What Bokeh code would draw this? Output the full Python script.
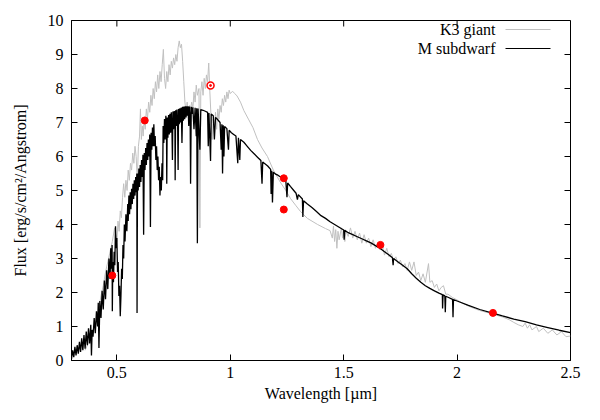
import math
from bokeh.plotting import figure
from bokeh.models import Range1d, FixedTicker, Label, Arrow, CustomJSTickFormatter
from bokeh.embed import file_html
from bokeh.resources import INLINE

FONT = "Liberation Serif"

# ---------------- data ----------------
x_ticks = [0.5, 1.0, 1.5, 2.0, 2.5]
y_ticks = [0, 1, 2, 3, 4, 5, 6, 7, 8, 9, 10]

# M subdwarf spectrum (wavelength in micron, flux)
m_points = [
    (0.300, 0.05), (0.305, 0.30), (0.310, 0.10), (0.315, 0.40), (0.320, 0.15), (0.325, 0.45), (0.330, 0.20), (0.335, 0.55),
    (0.340, 0.25), (0.345, 0.65), (0.350, 0.30), (0.355, 0.75), (0.360, 0.35), (0.365, 0.85), (0.370, 0.45), (0.375, 0.95),
    (0.380, 0.50), (0.385, 1.05), (0.388, 0.15), (0.391, 0.90), (0.395, 0.70), (0.400, 1.25), (0.405, 0.80), (0.410, 1.45),
    (0.415, 1.00), (0.418, 1.70), (0.421, 0.37), (0.425, 1.75), (0.430, 1.25), (0.435, 2.05), (0.440, 1.50), (0.445, 2.35),
    (0.450, 1.80), (0.455, 2.65), (0.460, 2.10), (0.465, 3.00), (0.470, 2.40), (0.473, 3.30), (0.476, 2.70), (0.479, 3.40),
    (0.480, 1.45), (0.482, 2.90), (0.485, 2.30), (0.488, 3.20), (0.491, 2.80), (0.494, 3.95), (0.497, 3.30), (0.500, 3.60),
    (0.503, 2.60), (0.506, 2.90), (0.509, 1.90), (0.512, 2.20), (0.515, 1.30), (0.518, 1.90), (0.521, 2.70), (0.524, 2.40),
    (0.527, 3.40), (0.530, 3.00), (0.533, 4.00), (0.536, 3.50), (0.540, 4.30), (0.544, 3.80), (0.548, 4.60), (0.550, 4.10),
    (0.553, 4.85), (0.556, 4.30), (0.559, 4.95), (0.562, 4.45), (0.565, 5.05), (0.568, 4.60), (0.571, 5.20), (0.574, 4.75),
    (0.577, 5.30), (0.580, 4.85), (0.583, 5.40), (0.586, 4.95), (0.588, 5.50), (0.589, 1.40), (0.591, 5.50), (0.594, 5.00),
    (0.597, 5.65), (0.600, 5.10), (0.603, 5.75), (0.606, 5.25), (0.609, 5.90), (0.612, 5.40), (0.615, 6.05), (0.618, 3.70),
    (0.621, 6.10), (0.624, 5.60), (0.627, 6.25), (0.630, 5.75), (0.633, 6.40), (0.636, 5.90), (0.639, 6.50), (0.642, 6.00),
    (0.645, 6.65), (0.648, 3.93), (0.651, 6.70), (0.654, 6.20), (0.657, 6.85), (0.660, 6.30), (0.663, 6.95), (0.666, 6.30),
    (0.669, 6.60), (0.672, 5.90), (0.675, 6.30), (0.678, 5.60), (0.681, 6.00), (0.684, 5.30), (0.687, 5.70), (0.690, 4.85),
    (0.693, 5.40), (0.696, 5.00), (0.699, 5.80), (0.702, 5.30), (0.704, 6.90), (0.707, 6.40), (0.710, 7.10), (0.713, 6.50),
    (0.716, 7.20), (0.719, 6.60), (0.720, 5.20), (0.722, 7.15), (0.725, 6.55), (0.728, 7.22), (0.731, 6.65), (0.734, 7.26),
    (0.737, 6.70), (0.740, 7.30), (0.743, 6.75), (0.745, 5.90), (0.747, 7.32), (0.750, 6.80), (0.753, 7.34), (0.756, 6.85),
    (0.757, 5.30), (0.759, 7.36), (0.762, 6.90), (0.765, 7.38), (0.768, 6.90), (0.770, 5.60), (0.772, 7.40), (0.775, 6.95),
    (0.778, 7.42), (0.781, 7.00), (0.784, 7.44), (0.787, 6.40), (0.790, 7.46), (0.793, 7.05), (0.796, 7.47), (0.799, 7.10),
    (0.802, 7.48), (0.805, 7.15), (0.808, 7.48), (0.811, 7.20), (0.814, 7.48), (0.817, 6.90), (0.820, 7.47), (0.823, 7.20),
    (0.825, 5.20), (0.828, 7.46), (0.832, 7.25), (0.835, 7.45), (0.840, 6.80), (0.845, 7.43), (0.850, 6.60), (0.852, 7.42),
    (0.855, 3.45), (0.858, 7.41), (0.866, 6.20), (0.870, 7.38), (0.880, 7.36), (0.890, 7.33), (0.900, 7.30), (0.903, 6.30),
    (0.906, 7.28), (0.913, 5.87), (0.916, 7.25), (0.925, 7.20), (0.930, 6.50), (0.935, 7.15), (0.945, 7.08), (0.955, 7.00),
    (0.960, 6.20), (0.963, 6.95), (0.966, 5.50), (0.969, 6.92), (0.972, 6.00), (0.975, 6.88), (0.985, 6.82), (0.992, 6.20),
    (0.995, 6.77), (1.005, 6.70), (1.015, 6.65), (1.025, 6.60), (1.033, 5.80), (1.036, 6.55), (1.042, 5.90), (1.045, 6.50),
    (1.060, 6.42), (1.075, 6.30), (1.090, 6.18), (1.105, 6.08), (1.120, 5.98), (1.135, 5.88), (1.140, 5.20), (1.143, 5.84),
    (1.150, 5.80), (1.165, 5.72), (1.178, 5.62), (1.180, 4.90), (1.183, 5.58), (1.186, 4.65), (1.190, 5.54), (1.200, 5.48),
    (1.210, 5.45), (1.225, 5.38), (1.235, 5.33), (1.245, 5.28), (1.250, 4.80), (1.253, 5.22), (1.265, 5.12), (1.280, 5.00),
    (1.290, 4.92), (1.296, 4.73), (1.300, 4.88), (1.318, 4.75), (1.320, 4.22), (1.323, 4.70), (1.340, 4.60), (1.360, 4.50),
    (1.380, 4.38), (1.400, 4.26), (1.420, 4.18), (1.440, 4.08), (1.460, 4.00), (1.480, 3.92), (1.500, 3.84), (1.502, 3.55),
    (1.505, 3.83), (1.520, 3.76), (1.540, 3.70), (1.560, 3.64), (1.580, 3.58), (1.600, 3.52), (1.620, 3.46), (1.640, 3.38),
    (1.660, 3.30), (1.680, 3.20), (1.700, 3.10), (1.715, 3.02), (1.718, 2.80), (1.720, 3.00), (1.740, 2.90), (1.760, 2.80),
    (1.780, 2.70), (1.800, 2.55), (1.820, 2.42), (1.840, 2.30), (1.860, 2.20), (1.880, 2.12), (1.900, 2.05), (1.920, 1.98),
    (1.935, 1.94), (1.936, 1.53), (1.938, 1.93), (1.946, 1.90), (1.948, 1.42), (1.950, 1.89), (1.960, 1.86), (1.980, 1.80),
    (1.982, 1.27), (1.984, 1.79), (2.000, 1.75), (2.050, 1.62), (2.100, 1.50), (2.156, 1.39), (2.200, 1.31), (2.250, 1.22),
    (2.300, 1.14), (2.350, 1.05), (2.400, 0.97), (2.450, 0.89), (2.500, 0.82),
]

# K3 giant spectrum (wavelength in micron, flux)
k_points = [
    (0.360, 0.30), (0.380, 0.60), (0.400, 1.00), (0.420, 1.50), (0.430, 1.90), (0.440, 2.20), (0.450, 2.60), (0.460, 2.90),
    (0.470, 3.20), (0.480, 3.50), (0.490, 3.90), (0.500, 3.50), (0.505, 4.10), (0.510, 3.80), (0.515, 4.40), (0.520, 4.20),
    (0.525, 4.80), (0.530, 5.20), (0.535, 4.80), (0.540, 5.30), (0.545, 5.00), (0.550, 5.60), (0.555, 5.30), (0.560, 5.80),
    (0.565, 5.60), (0.570, 6.10), (0.575, 5.80), (0.580, 6.30), (0.585, 6.00), (0.590, 5.30), (0.595, 6.30), (0.600, 6.60),
    (0.604, 7.40), (0.608, 6.50), (0.612, 6.90), (0.616, 6.60), (0.620, 7.10), (0.625, 6.80), (0.630, 7.40), (0.635, 7.10),
    (0.640, 7.60), (0.645, 7.30), (0.650, 7.80), (0.655, 7.50), (0.660, 8.00), (0.665, 7.70), (0.670, 8.20), (0.675, 7.90),
    (0.680, 8.40), (0.685, 8.00), (0.690, 8.50), (0.695, 8.20), (0.700, 8.70), (0.705, 9.15), (0.710, 8.30), (0.715, 8.00),
    (0.720, 8.50), (0.725, 8.20), (0.730, 8.70), (0.735, 8.40), (0.740, 8.80), (0.745, 8.60), (0.750, 8.90), (0.755, 8.70),
    (0.760, 9.00), (0.765, 8.80), (0.770, 9.20), (0.775, 9.40), (0.780, 9.20), (0.785, 9.30), (0.790, 8.80), (0.795, 8.20),
    (0.800, 7.60), (0.805, 7.30), (0.810, 7.60), (0.815, 7.20), (0.820, 7.50), (0.825, 7.40), (0.830, 7.60), (0.835, 7.40),
    (0.840, 7.90), (0.845, 7.60), (0.850, 8.10), (0.855, 7.80), (0.862, 8.00), (0.866, 3.90), (0.870, 7.90), (0.875, 8.20),
    (0.880, 7.80), (0.885, 8.30), (0.890, 8.00), (0.895, 8.40), (0.900, 8.20), (0.905, 8.75), (0.910, 7.90), (0.915, 7.20),
    (0.920, 6.50), (0.925, 7.10), (0.930, 6.80), (0.935, 7.30), (0.940, 6.80), (0.945, 7.40), (0.950, 7.10), (0.955, 7.50),
    (0.960, 7.30), (0.965, 7.70), (0.970, 7.50), (0.975, 7.80), (0.980, 7.60), (0.985, 7.90), (0.990, 7.70), (0.995, 7.95),
    (1.000, 7.85), (1.010, 7.92), (1.020, 7.85), (1.030, 7.78), (1.045, 7.60), (1.060, 7.35), (1.080, 7.10), (1.100, 6.85),
    (1.120, 6.50), (1.140, 6.25), (1.164, 6.00), (1.190, 5.60), (1.220, 5.25), (1.245, 5.00), (1.266, 4.76), (1.290, 4.55),
    (1.310, 4.38), (1.340, 4.18), (1.385, 4.00), (1.420, 3.88), (1.440, 3.82), (1.450, 3.60), (1.455, 3.95), (1.460, 3.50),
    (1.465, 3.85), (1.470, 3.30), (1.475, 3.80), (1.480, 3.55), (1.490, 3.90), (1.495, 3.60), (1.500, 3.85), (1.505, 3.50),
    (1.510, 3.80), (1.520, 3.65), (1.530, 3.90), (1.540, 3.60), (1.550, 3.80), (1.560, 3.55), (1.570, 3.75), (1.580, 3.45),
    (1.590, 3.70), (1.600, 3.45), (1.610, 3.60), (1.620, 3.35), (1.630, 3.55), (1.640, 3.30), (1.650, 3.45), (1.660, 3.25),
    (1.670, 3.40), (1.680, 3.10), (1.690, 3.30), (1.700, 3.05), (1.710, 3.15), (1.720, 2.95), (1.730, 3.05), (1.740, 2.85),
    (1.750, 2.95), (1.760, 2.75), (1.770, 2.85), (1.780, 2.65), (1.790, 2.90), (1.800, 2.65), (1.810, 2.90), (1.820, 2.50),
    (1.830, 2.60), (1.840, 2.35), (1.850, 2.55), (1.860, 2.30), (1.874, 2.85), (1.880, 2.30), (1.890, 2.35), (1.900, 2.15),
    (1.910, 2.25), (1.920, 2.05), (1.930, 2.15), (1.940, 2.20), (1.950, 1.95), (1.960, 1.95), (1.980, 1.85), (2.000, 1.78),
    (2.020, 1.70), (2.050, 1.60), (2.080, 1.52), (2.100, 1.47), (2.150, 1.38), (2.200, 1.28), (2.230, 1.20), (2.250, 1.12),
    (2.270, 1.05), (2.290, 1.00), (2.300, 1.10), (2.310, 0.95), (2.320, 1.05), (2.330, 0.90), (2.350, 1.00), (2.360, 0.85),
    (2.380, 0.95), (2.400, 0.80), (2.420, 0.90), (2.440, 0.75), (2.460, 0.85), (2.480, 0.70), (2.500, 0.72),
]

# photometry points
phot_wave = [0.48, 0.623, 1.236, 1.236, 1.662, 2.158]
phot_flux = [2.50, 7.06, 5.36, 4.44, 3.40, 1.40]
open_wave = [0.913]
open_flux = [8.09]

m_wave = [w for w, f in m_points]
m_flux = [f for w, f in m_points]
k_wave = [w for w, f in k_points]
k_flux = [f for w, f in k_points]

# ---------------- figure ----------------
x_range = Range1d(0.3, 2.5)
y_range = Range1d(0, 10)
p = figure(width=584, height=404, x_range=x_range, y_range=y_range,
           output_backend="svg", toolbar_location=None,
           min_border_left=71, min_border_right=14, min_border_top=20, min_border_bottom=40,
           background_fill_color="white", border_fill_color="white")
p.xgrid.visible = False
p.ygrid.visible = False
p.outline_line_color = "black"
p.outline_line_width = 1
p.outline_line_alpha = 1

K_COLOR = "#c0c0c0"
p.line(k_wave, k_flux, line_color=K_COLOR, line_width=1)
p.line(m_wave, m_flux, line_color="black", line_width=1.3)
p.scatter(phot_wave, phot_flux, size=7, fill_color="red", line_color="red")
p.scatter(open_wave, open_flux, size=7, fill_color="white", line_color="red", line_width=1.5)
p.scatter(open_wave, open_flux, size=2, fill_color="red", line_color="red")

# mirrored inward ticks on the top and right edges
p.ray(x=x_ticks, y=[y_range.end] * len(x_ticks), length=6, length_units="screen",
      angle=-math.pi / 2, line_color="black", line_width=1)
p.ray(x=[x_range.end] * len(y_ticks), y=y_ticks, length=6, length_units="screen",
      angle=math.pi, line_color="black", line_width=1)


def style(ax):
    ax.axis_line_color = "black"
    ax.axis_line_width = 1
    ax.major_tick_line_color = "black"
    ax.major_tick_in = 6
    ax.major_tick_out = 0
    ax.minor_tick_line_color = None
    ax.major_label_text_font = FONT
    ax.major_label_text_color = "black"
    ax.major_label_text_font_size = "16px"
    ax.axis_label_text_font = FONT
    ax.axis_label_text_font_style = "normal"
    ax.axis_label_text_font_size = "16px"
    ax.axis_label_text_color = "black"


xax = p.xaxis[0]
yax = p.yaxis[0]
xax.ticker = FixedTicker(ticks=x_ticks)
yax.ticker = FixedTicker(ticks=y_ticks)
xax.formatter = CustomJSTickFormatter(code="return tick.toString();")
style(xax)
style(yax)
xax.axis_label = "Wavelength [µm]"
yax.axis_label = "Flux [erg/s/cm²/Angstrom]"
xax.major_label_standoff = 6
xax.axis_label_standoff = 4
yax.major_label_standoff = 8
yax.axis_label_standoff = 16

# legend (text to the left of the line sample, as in the original)
legend_rows = [("K3 giant", K_COLOR, 331), ("M subdwarf", "black", 312)]
for text, color, ys in legend_rows:
    p.add_layout(Label(x=424, y=ys, x_units="screen", y_units="screen", text=text,
                       text_align="right", text_baseline="middle",
                       text_font=FONT, text_font_size="16px", text_color="black"))
    p.add_layout(Arrow(end=None, x_start=434, y_start=ys, x_end=479, y_end=ys,
                       start_units="screen", end_units="screen",
                       line_color=color, line_width=1))

open("out.html", "w").write(file_html(p, INLINE))
